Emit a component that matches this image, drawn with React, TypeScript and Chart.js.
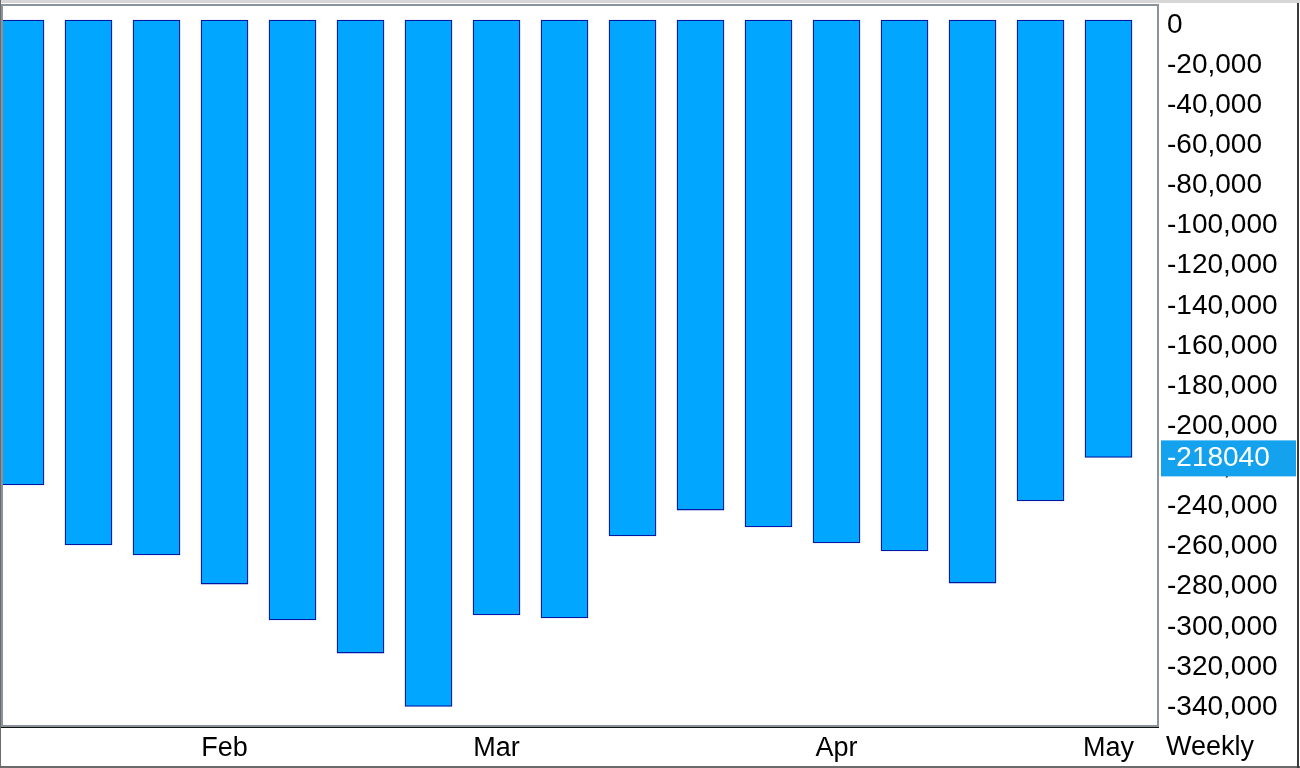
import React, { useEffect, useRef } from "react";
import { Chart, registerables } from "chart.js";

Chart.register(...registerables);

// Week positions (one bar per week) and their values
const weekIndex = [0, 1, 2, 3, 4, 5, 6, 7, 8, 9, 10, 11, 12, 13, 14, 15, 16];
const weeklyValues = [
  -231800, -261700, -266700, -281200, -299100, -315600, -342200, -296600,
  -298100, -257200, -244300, -252700, -260700, -264700, -280700, -239800,
  -218040,
];

// Month labels on the x axis (placed at the week they start)
const monthTickPositions = [3, 7, 12, 16];
const monthTickLabels = ["Feb", "Mar", "Apr", "May"];

// Y axis ticks
const yTickValues = [
  0, -20000, -40000, -60000, -80000, -100000, -120000, -140000, -160000,
  -180000, -200000, -220000, -240000, -260000, -280000, -300000, -320000,
  -340000,
];

const lastValue = weeklyValues[weeklyValues.length - 1];
const periodLabel = "Weekly";
const FONT = "'Liberation Sans', Arial, sans-serif";

const framePlugin = {
  id: "frame",
  beforeDraw(chart: any) {
    const ctx = chart.ctx;
    ctx.save();
    ctx.fillStyle = "#ffffff";
    ctx.fillRect(0, 0, chart.width, chart.height);
    ctx.restore();
  },
  afterDraw(chart: any) {
    const ctx = chart.ctx;
    const area = chart.chartArea;
    const y = chart.scales.y;
    ctx.save();
    // top strip
    ctx.fillStyle = "#d6d6d6";
    ctx.fillRect(0, 0, chart.width, 3);
    // plot border
    ctx.strokeStyle = "#8a929b";
    ctx.lineWidth = 2;
    ctx.strokeRect(area.left - 1, area.top - 1, area.right - area.left + 2, area.bottom - area.top + 2);
    // black line under plot
    ctx.fillStyle = "#111111";
    ctx.fillRect(0, area.bottom + 2, area.right + 2, 1);
    // outer frame
    ctx.fillStyle = "#6b6b6b";
    ctx.fillRect(0, 0, 1, chart.height);
    ctx.fillRect(0, chart.height - 2, chart.width, 2);
    ctx.fillStyle = "#3a3a3a";
    ctx.fillRect(chart.width - 3, 3, 2, chart.height);

    // last value highlight
    const py = y.getPixelForValue(lastValue);
    ctx.fillStyle = "#14a2ee";
    ctx.fillRect(area.right + 4, py - 17, 135, 36);
    ctx.fillStyle = "#ffffff";
    ctx.font = `28px ${FONT}`;
    ctx.textBaseline = "middle";
    ctx.textAlign = "left";
    ctx.fillText(String(lastValue), area.right + 10, py + 1);

    // period label
    ctx.fillStyle = "#000000";
    ctx.font = `27px ${FONT}`;
    ctx.fillText(periodLabel, area.right + 9, 748);
    ctx.restore();
  },
};

export default function App() {
  const ref = useRef<HTMLCanvasElement | null>(null);

  useEffect(() => {
    document.body.style.margin = "0";
    const canvas = ref.current;
    if (!canvas) return;
    const chart = new Chart(canvas, {
      type: "bar",
      data: {
        datasets: [
          {
            data: weeklyValues.map((v, i) => ({ x: weekIndex[i], y: v })),
            backgroundColor: "#00a6ff",
            borderColor: "#0018a4",
            borderWidth: 1.3,
            borderSkipped: false,
            barThickness: 47,
            clip: 0,
          } as any,
        ],
      },
      options: {
        animation: false,
        responsive: false,
        devicePixelRatio: 1,
        layout: { padding: { left: 3, top: 6, right: 0, bottom: 0 } },
        plugins: { legend: { display: false }, tooltip: { enabled: false } },
        scales: {
          x: {
            type: "linear",
            offset: false,
            min: -0.2574,
            max: 16.713,
            grid: { display: false, drawTicks: false, offset: false },
            border: { display: false },
            afterBuildTicks: (s: any) => {
              s.ticks = monthTickPositions.map((v) => ({ value: v }));
            },
            afterFit: (s: any) => {
              s.height = 43;
              s.paddingLeft = 0;
              s.paddingRight = 0;
              s.paddingTop = 0;
              s.paddingBottom = 0;
            },
            ticks: {
              autoSkip: false,
              maxRotation: 0,
              minRotation: 0,
              padding: 7,
              color: "#000000",
              font: { family: FONT, size: 27 },
              callback: (v: any) => {
                const idx = monthTickPositions.indexOf(Number(v));
                return idx >= 0 ? monthTickLabels[idx] : "";
              },
            },
          },
          y: {
            position: "right",
            min: -351446,
            max: 6979,
            grid: { display: false, drawTicks: false },
            border: { display: false },
            afterBuildTicks: (s: any) => {
              s.ticks = yTickValues.map((v) => ({ value: v }));
            },
            afterFit: (s: any) => {
              s.width = 143;
              s.paddingLeft = 0;
              s.paddingRight = 0;
              s.paddingTop = 0;
              s.paddingBottom = 0;
            },
            ticks: {
              autoSkip: false,
              padding: 10,
              labelOffset: 5,
              color: "#000000",
              font: { family: FONT, size: 28 },
              callback: (v: any) => Number(v).toLocaleString("en-US"),
            },
          },
        },
      },
      plugins: [framePlugin],
    });
    return () => chart.destroy();
  }, []);

  return (
    <div style={{ position: "absolute", left: 0, top: 0, width: 1300, height: 768 }}>
      <canvas ref={ref} width={1300} height={768} style={{ display: "block" }} />
    </div>
  );
}
